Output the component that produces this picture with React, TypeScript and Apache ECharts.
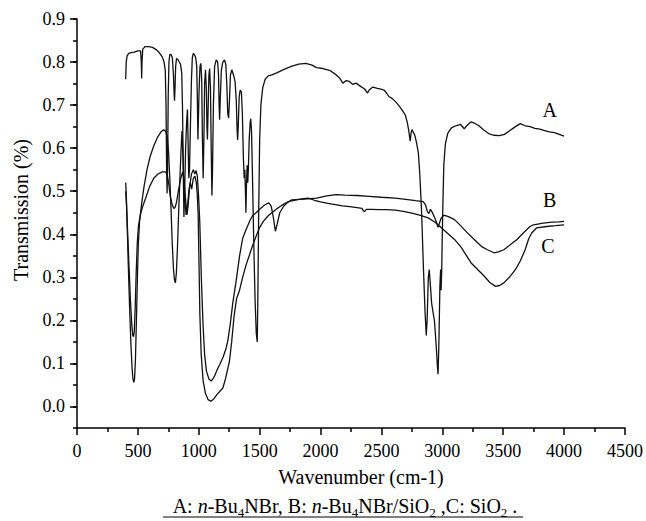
import React, { useEffect, useRef } from "react";
import * as echarts from "echarts";

const FONT = "'Liberation Serif', 'DejaVu Serif', 'Times New Roman', Times, serif";

const xTicks = [0, 500, 1000, 1500, 2000, 2500, 3000, 3500, 4000, 4500];
const yTickLabels = ["0.0", "0.1", "0.2", "0.3", "0.4", "0.5", "0.6", "0.7", "0.8", "0.9"];
const seriesNames = ["A", "B", "C"];

// A: n-Bu4NBr  [wavenumber, transmission]
const seriesA: [number, number][] = [
  [400,0.76],[404,0.80],[412,0.815],[425,0.82],[445,0.822],[470,0.823],[500,0.826],[522,0.826],[528,0.80],[531,0.762],[534,0.80],[540,0.83],[560,0.836],[590,0.836],[620,0.834],[650,0.829],[675,0.822],[700,0.812],[715,0.80],[725,0.78],[731,0.70],[736,0.55],[740,0.495],[744,0.56],[749,0.72],[755,0.80],[762,0.817],[772,0.818],[783,0.81],[792,0.77],[797,0.73],[801,0.71],[805,0.74],[810,0.79],[817,0.808],[828,0.806],[840,0.80],[850,0.795],[860,0.775],[866,0.70],[872,0.56],[878,0.44],[884,0.50],[892,0.60],[900,0.66],[907,0.69],[912,0.62],[918,0.53],[924,0.55],[932,0.66],[940,0.76],[947,0.81],[955,0.82],[965,0.817],[975,0.81],[983,0.79],[988,0.72],[993,0.62],[997,0.62],[1002,0.73],[1010,0.79],[1017,0.797],[1024,0.76],[1030,0.62],[1036,0.53],[1042,0.62],[1048,0.75],[1055,0.782],[1062,0.74],[1067,0.65],[1071,0.62],[1076,0.68],[1083,0.77],[1089,0.785],[1096,0.74],[1102,0.60],[1108,0.49],[1113,0.55],[1120,0.70],[1130,0.79],[1143,0.805],[1155,0.80],[1162,0.77],[1167,0.70],[1171,0.666],[1176,0.71],[1185,0.78],[1197,0.80],[1211,0.805],[1222,0.795],[1230,0.75],[1238,0.68],[1245,0.67],[1252,0.71],[1260,0.77],[1271,0.782],[1285,0.77],[1298,0.755],[1308,0.71],[1315,0.64],[1319,0.619],[1324,0.65],[1332,0.72],[1340,0.735],[1350,0.73],[1358,0.68],[1366,0.58],[1373,0.53],[1378,0.55],[1383,0.50],[1387,0.45],[1392,0.52],[1397,0.56],[1402,0.52],[1407,0.55],[1414,0.62],[1422,0.66],[1427,0.668],[1433,0.64],[1440,0.55],[1450,0.40],[1462,0.25],[1472,0.17],[1480,0.15],[1485,0.25],[1492,0.45],[1500,0.62],[1510,0.70],[1525,0.74],[1545,0.76],[1570,0.768],[1600,0.77],[1640,0.775],[1700,0.783],[1760,0.79],[1820,0.795],[1880,0.797],[1930,0.793],[1967,0.787],[2020,0.785],[2080,0.78],[2120,0.772],[2156,0.763],[2170,0.757],[2183,0.751],[2210,0.757],[2237,0.755],[2265,0.748],[2291,0.751],[2332,0.743],[2360,0.738],[2386,0.728],[2399,0.735],[2430,0.742],[2467,0.739],[2495,0.737],[2521,0.735],[2545,0.727],[2561,0.72],[2590,0.715],[2615,0.708],[2640,0.70],[2669,0.689],[2696,0.677],[2712,0.66],[2723,0.643],[2736,0.616],[2743,0.635],[2750,0.643],[2765,0.635],[2776,0.628],[2790,0.61],[2803,0.589],[2815,0.54],[2830,0.45],[2845,0.32],[2858,0.22],[2868,0.165],[2875,0.20],[2885,0.30],[2892,0.318],[2900,0.29],[2912,0.24],[2924,0.218],[2935,0.20],[2950,0.14],[2960,0.09],[2965,0.075],[2972,0.15],[2980,0.28],[2986,0.318],[2990,0.27],[2995,0.32],[3003,0.45],[3012,0.56],[3025,0.61],[3045,0.635],[3075,0.647],[3110,0.652],[3150,0.655],[3180,0.645],[3200,0.652],[3235,0.661],[3265,0.658],[3300,0.652],[3340,0.642],[3380,0.634],[3420,0.63],[3470,0.629],[3510,0.632],[3550,0.64],[3600,0.65],[3640,0.657],[3680,0.652],[3720,0.65],[3760,0.646],[3800,0.644],[3840,0.641],[3880,0.638],[3920,0.636],[3960,0.632],[4000,0.628]
];

// B: n-Bu4NBr/SiO2
const seriesB: [number, number][] = [
  [400,0.5],[406,0.47],[415,0.41],[428,0.32],[440,0.24],[450,0.19],[458,0.165],[464,0.162],[470,0.172],[478,0.23],[486,0.31],[495,0.38],[505,0.42],[520,0.445],[540,0.465],[565,0.485],[595,0.51],[630,0.53],[665,0.54],[700,0.545],[725,0.545],[740,0.54],[752,0.52],[765,0.49],[780,0.47],[795,0.46],[805,0.462],[818,0.475],[835,0.505],[852,0.53],[868,0.545],[880,0.525],[892,0.48],[903,0.445],[912,0.465],[925,0.51],[940,0.54],[955,0.55],[968,0.54],[978,0.548],[988,0.535],[998,0.49],[1008,0.43],[1016,0.35],[1022,0.29],[1035,0.19],[1048,0.12],[1063,0.082],[1083,0.064],[1103,0.059],[1125,0.068],[1150,0.085],[1171,0.097],[1200,0.115],[1225,0.136],[1238,0.152],[1258,0.19],[1279,0.24],[1306,0.29],[1335,0.35],[1360,0.39],[1387,0.41],[1420,0.432],[1441,0.443],[1467,0.449],[1500,0.458],[1540,0.468],[1575,0.473],[1595,0.465],[1612,0.44],[1629,0.407],[1645,0.425],[1665,0.45],[1697,0.465],[1730,0.474],[1764,0.48],[1830,0.481],[1899,0.482],[1967,0.484],[2050,0.489],[2129,0.492],[2200,0.491],[2300,0.49],[2400,0.488],[2500,0.486],[2614,0.484],[2700,0.481],[2780,0.478],[2843,0.476],[2862,0.468],[2878,0.452],[2890,0.448],[2902,0.458],[2915,0.452],[2935,0.44],[2952,0.428],[2965,0.416],[2975,0.425],[2990,0.437],[3005,0.443],[3019,0.444],[3050,0.441],[3100,0.434],[3150,0.42],[3200,0.405],[3262,0.388],[3320,0.372],[3370,0.364],[3424,0.357],[3460,0.359],[3505,0.364],[3560,0.376],[3613,0.388],[3655,0.4],[3694,0.411],[3720,0.418],[3748,0.422],[3829,0.426],[3900,0.428],[3960,0.429],[4000,0.43]
];

// C: SiO2
const seriesC: [number, number][] = [
  [400,0.52],[405,0.49],[412,0.42],[422,0.32],[432,0.23],[442,0.15],[452,0.09],[460,0.063],[467,0.056],[473,0.065],[480,0.11],[488,0.2],[496,0.3],[504,0.38],[514,0.43],[530,0.47],[550,0.51],[575,0.55],[600,0.58],[630,0.605],[660,0.625],[690,0.638],[712,0.643],[730,0.638],[742,0.625],[752,0.59],[762,0.53],[772,0.46],[782,0.38],[792,0.32],[800,0.295],[808,0.287],[816,0.31],[825,0.37],[834,0.445],[845,0.53],[855,0.6],[862,0.64],[868,0.6],[876,0.53],[886,0.48],[896,0.445],[906,0.46],[918,0.5],[930,0.52],[942,0.505],[955,0.53],[968,0.535],[980,0.52],[988,0.49],[995,0.445],[1002,0.33],[1009,0.213],[1020,0.12],[1036,0.059],[1055,0.03],[1076,0.016],[1100,0.012],[1125,0.018],[1150,0.028],[1175,0.036],[1198,0.043],[1220,0.065],[1240,0.09],[1252,0.105],[1270,0.15],[1290,0.21],[1310,0.25],[1333,0.268],[1360,0.3],[1390,0.33],[1414,0.35],[1440,0.372],[1470,0.395],[1495,0.413],[1530,0.43],[1570,0.443],[1630,0.457],[1680,0.467],[1737,0.476],[1800,0.48],[1860,0.483],[1900,0.484],[1950,0.479],[2000,0.475],[2060,0.472],[2120,0.469],[2180,0.466],[2240,0.464],[2300,0.462],[2340,0.46],[2350,0.455],[2362,0.453],[2375,0.458],[2420,0.458],[2480,0.457],[2540,0.457],[2614,0.456],[2680,0.453],[2750,0.449],[2820,0.444],[2884,0.438],[2940,0.428],[2992,0.415],[3040,0.403],[3100,0.388],[3154,0.37],[3235,0.334],[3290,0.318],[3343,0.303],[3390,0.288],[3437,0.279],[3470,0.281],[3505,0.287],[3550,0.3],[3600,0.318],[3640,0.338],[3680,0.364],[3710,0.39],[3734,0.403],[3775,0.415],[3856,0.418],[3930,0.42],[4000,0.422]
];

// label anchor points [wavenumber, transmission]
const labelPositions: [number, number][] = [[3882, 0.689], [3882, 0.48], [3868, 0.372]];

export default function App() {
  const ref = useRef<HTMLDivElement>(null);

  useEffect(() => {
    if (!ref.current) return;
    const chart = echarts.init(ref.current, null, { renderer: "svg" });
    const axisColor = "#000";
    const lineStyle = { color: axisColor, width: 1.5 };
    const allSeries = [seriesA, seriesB, seriesC];

    const option: any = {
      animation: false,
      backgroundColor: "#fff",
      textStyle: { fontFamily: FONT },
      grid: [
        { left: 77, right: 13, top: 19, bottom: 93 },
        { left: 77, right: 13, top: 19, bottom: 114.53 },
      ],
      xAxis: [
        {
          type: "value",
          gridIndex: 0,
          min: xTicks[0],
          max: xTicks[xTicks.length - 1],
          interval: 500,
          axisLine: { show: true, onZero: false, lineStyle },
          axisTick: { show: true, length: 7, lineStyle },
          minorTick: { show: true, splitNumber: 2, length: 4, lineStyle },
          axisLabel: {
            margin: 14,
            fontSize: 18,
            fontFamily: FONT,
            color: "#000",
            formatter: (v: number) => String(v),
          },
          splitLine: { show: false },
          minorSplitLine: { show: false },
        },
        { type: "value", gridIndex: 1, min: 0, max: 4500, show: false },
      ],
      yAxis: [
        {
          type: "value",
          gridIndex: 0,
          min: -0.05,
          max: 0.9,
          interval: 0.05,
          axisLine: { show: true, onZero: false, lineStyle },
          axisTick: { show: true, length: 4, lineStyle },
          axisLabel: { show: false },
          splitLine: { show: false },
        },
        {
          type: "value",
          gridIndex: 1,
          min: 0,
          max: 0.9,
          interval: 0.1,
          axisLine: { show: false, onZero: false },
          axisTick: { show: true, length: 7, lineStyle },
          axisLabel: {
            margin: 12,
            fontSize: 18,
            fontFamily: FONT,
            color: "#000",
            formatter: (v: number) => yTickLabels[Math.round(v * 10)] ?? "",
          },
          splitLine: { show: false },
        },
      ],
      series: allSeries.map((d, i) => ({
        name: seriesNames[i],
        type: "line",
        xAxisIndex: 0,
        yAxisIndex: 0,
        data: d,
        showSymbol: false,
        symbol: "none",
        smooth: false,
        silent: true,
        lineStyle: { color: "#111", width: 1.3 },
        markPoint: {
          silent: true,
          symbol: "circle",
          symbolSize: 1,
          itemStyle: { color: "rgba(0,0,0,0)" },
          label: {
            show: true,
            position: "inside",
            formatter: seriesNames[i],
            color: "#000",
            fontSize: 20,
            fontFamily: FONT,
          },
          data: [{ coord: labelPositions[i] }],
        },
      })),
      graphic: [
        {
          type: "text",
          x: 21,
          y: 210,
          rotation: Math.PI / 2,
          style: {
            text: "Transmission (%)",
            fontSize: 20,
            fontFamily: FONT,
            fill: "#000",
            align: "center",
            verticalAlign: "middle",
          },
        },
        {
          type: "text",
          x: 361,
          y: 477,
          style: {
            text: "Wavenumber (cm-1)",
            fontSize: 20,
            fontFamily: FONT,
            fill: "#000",
            align: "center",
            verticalAlign: "middle",
          },
        },
        {
          type: "text",
          x: 345,
          y: 506,
          style: {
            text:
              "{r|A: }{i|n}{r|-Bu}{s|4}{r|NBr, B: }{i|n}{r|-Bu}{s|4}{r|NBr/SiO}{s|2}{r| ,C: SiO}{s|2}{r| .}",
            align: "center",
            verticalAlign: "middle",
            fill: "#000",
            fontFamily: FONT,
            rich: {
              r: { fontSize: 20, fontFamily: FONT, lineHeight: 26, fill: "#000" },
              i: { fontSize: 20, fontFamily: FONT, fontStyle: "italic", lineHeight: 26, fill: "#000" },
              s: { fontSize: 13, fontFamily: FONT, lineHeight: 14, verticalAlign: "bottom", fill: "#000" },
            },
          },
        },
        {
          type: "line",
          shape: { x1: 163, y1: 517, x2: 523, y2: 517 },
          style: { stroke: "#000", lineWidth: 1 },
        },
      ],
    };

    chart.setOption(option);
    return () => chart.dispose();
  }, []);

  return (
    <div
      ref={ref}
      style={{ position: "fixed", left: 0, top: 0, width: 646, height: 521, background: "#fff" }}
    />
  );
}
